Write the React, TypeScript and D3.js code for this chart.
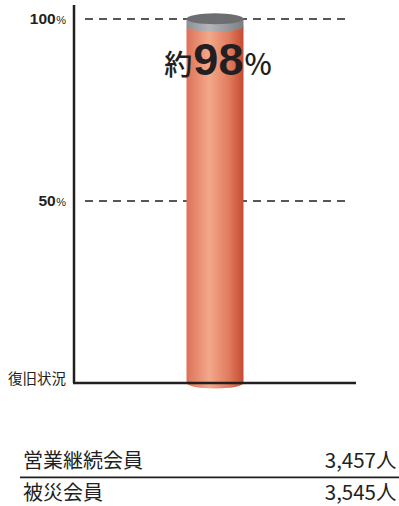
import React from "react";
import * as d3 from "d3";

const categories = ["復旧状況"];
const values = [98];
const yTicks = [50, 100];
const tableLabels = ["営業継続会員", "被災会員"];
const tableValues = ["3,457人", "3,545人"];
const valueLabelPrefix = "約";
const valueLabelSuffix = "%";

const W = 399;
const H = 506;
const textColor = "#231f20";
const jp = "'Noto Sans CJK JP', 'Noto Sans', sans-serif";
const latin = "'Liberation Sans', Arial, sans-serif";

export default function App() {
  const y = d3.scaleLinear().domain([0, 100]).range([383, 19]);
  const x = d3.scalePoint<string>().domain(categories).range([74, 356]).padding(0.5);
  const barW = 57;
  const ry = 5.5;
  const capH = 7.5;
  const rowY = d3.scaleLinear().domain([0, 1]).range([468.3, 500]);

  return (
    <svg
      width={W}
      height={H}
      style={{ position: "absolute", left: 0, top: 0, background: "#fff" }}
    >
      <defs>
        <linearGradient id="barGrad" x1="0" x2="1" y1="0" y2="0">
          <stop offset="0%" stopColor="#dc7258" />
          <stop offset="40%" stopColor="#f3a88a" />
          <stop offset="75%" stopColor="#e07a5e" />
          <stop offset="100%" stopColor="#c64b31" />
        </linearGradient>
        <linearGradient id="capGrad" x1="0" x2="1" y1="0" y2="0">
          <stop offset="0%" stopColor="#8e9094" />
          <stop offset="40%" stopColor="#b4b6b9" />
          <stop offset="100%" stopColor="#7c7e82" />
        </linearGradient>
      </defs>

      {/* dashed gridlines */}
      {yTicks.map((t) => (
        <line
          key={"g" + t}
          x1={85}
          x2={350}
          y1={y(t)}
          y2={y(t)}
          stroke="#231f20"
          strokeWidth={1.6}
          strokeDasharray="8,6"
        />
      ))}

      {/* tick labels */}
      {yTicks.map((t) => (
        <text
          key={"t" + t}
          x={66}
          y={y(t) + 4.8}
          textAnchor="end"
          fill={textColor}
          fontFamily={latin}
        >
          <tspan fontSize={15.5} fontWeight="bold">{t}</tspan>
          <tspan fontSize={11} dx={0.5}>%</tspan>
        </text>
      ))}

      {/* bars */}
      {categories.map((c, i) => {
        const cx = x(c) as number;
        const left = cx - barW / 2;
        const right = cx + barW / 2;
        const yTop = y(values[i]);
        const y0 = y(0);
        const rx = barW / 2;
        const body = `M${left},${yTop} L${left},${y0} A${rx},${ry} 0 0 0 ${right},${y0} L${right},${yTop} Z`;
        const capTop = yTop - capH;
        const cap = `M${left},${capTop} L${left},${yTop} A${rx},${ry} 0 0 0 ${right},${yTop} L${right},${capTop} Z`;
        return (
          <g key={c}>
            <path d={body} fill="url(#barGrad)" />
            <path d={cap} fill="url(#capGrad)" />
            <ellipse cx={cx} cy={capTop} rx={rx} ry={ry} fill="#6d6e72" />
            <text
              x={cx + 3}
              y={75}
              textAnchor="middle"
              fill={textColor}
            >
              <tspan fontFamily={jp} fontSize={28} fontWeight={500}>{valueLabelPrefix}</tspan>
              <tspan fontFamily={latin} fontSize={45} fontWeight="bold" dx={1}>{values[i]}</tspan>
              <tspan fontFamily={jp} fontSize={29} fontWeight={500} dx={1}>{valueLabelSuffix}</tspan>
            </text>
          </g>
        );
      })}

      {/* axes */}
      <line x1={74} x2={74} y1={5} y2={383} stroke={textColor} strokeWidth={2.5} />
      <line x1={73} x2={356} y1={383} y2={383} stroke={textColor} strokeWidth={2.5} />

      {/* category label */}
      {categories.map((c) => (
        <text
          key={"c" + c}
          x={66}
          y={384}
          textAnchor="end"
          fontFamily={jp}
          fontSize={14.5}
          fill={textColor}
        >
          {c}
        </text>
      ))}

      {/* table */}
      {tableLabels.map((l, i) => (
        <g key={l}>
          <text
            x={23}
            y={rowY(i)}
            fontFamily={jp}
            fontSize={20}
            fontWeight={400}
            fill={textColor}
          >
            {l}
          </text>
          <text
            x={396.5}
            y={rowY(i)}
            textAnchor="end"
            fontFamily={jp}
            fontSize={20.5}
            fontWeight={400}
            fill={textColor}
          >
            {tableValues[i]}
          </text>
        </g>
      ))}
      <line x1={20} x2={399} y1={477.3} y2={477.3} stroke={textColor} strokeWidth={1.8} />
    </svg>
  );
}
